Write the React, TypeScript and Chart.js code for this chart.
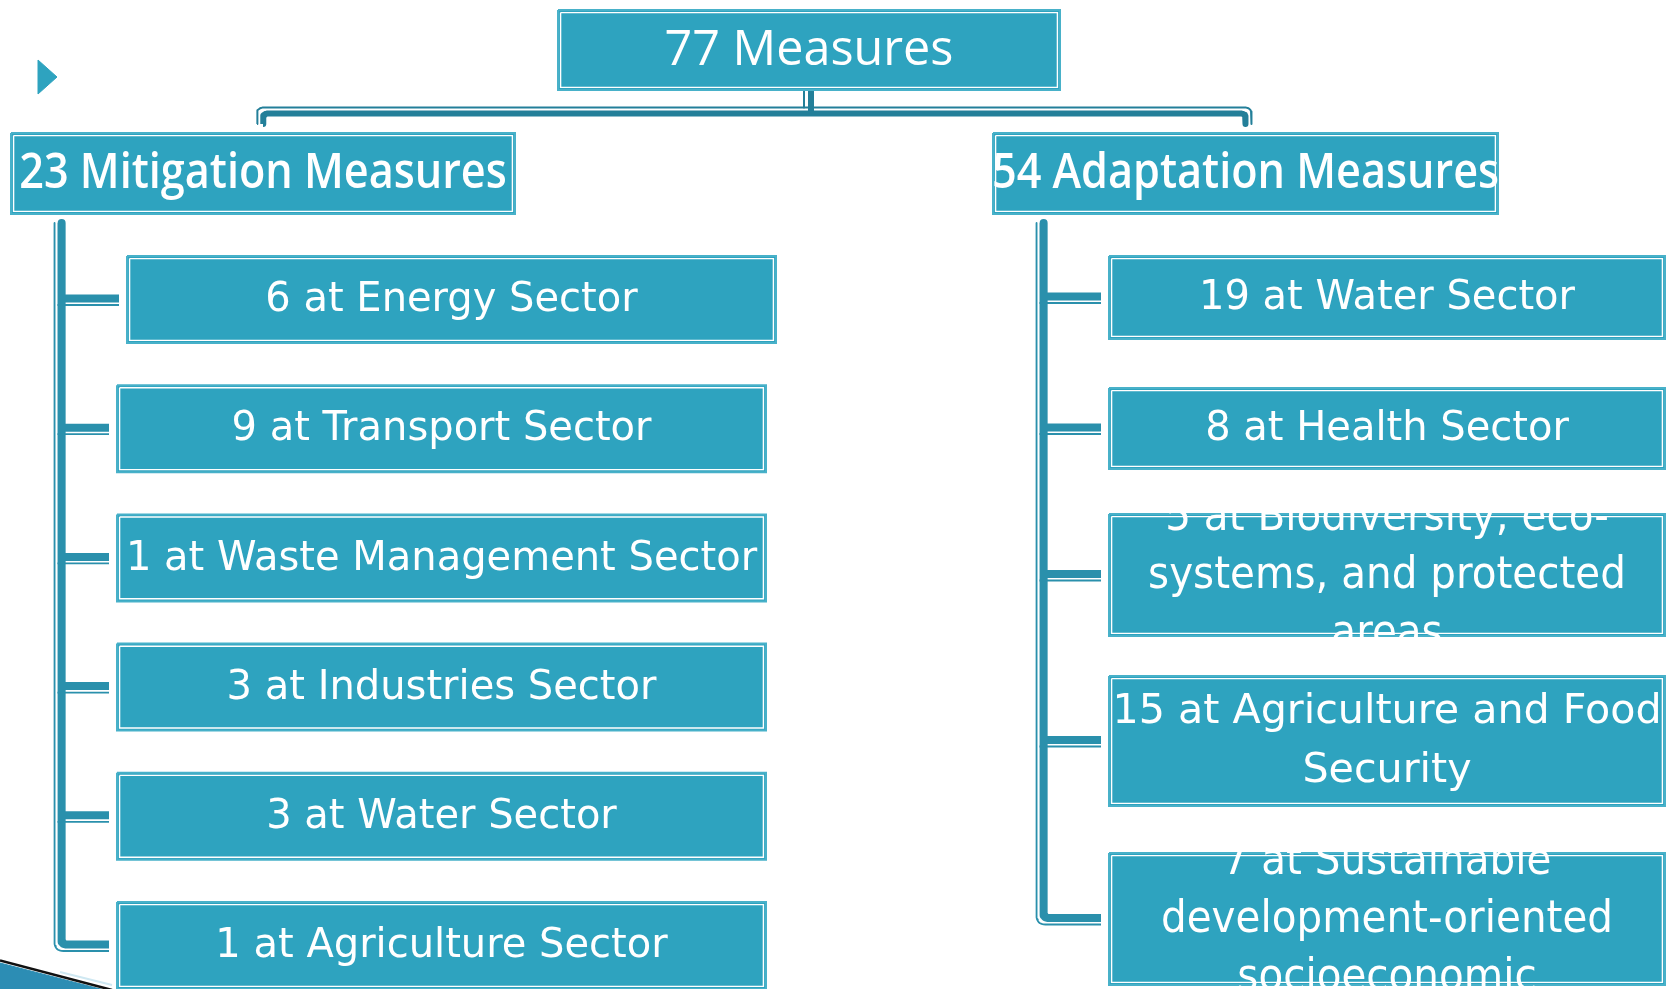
import React, { useEffect, useRef } from "react";
import { Chart, registerables } from "chart.js";

Chart.register(...registerables);

// ---------------- DATA ----------------
const rootLabel = "Measures";
const rootCount = 77;
const groupLabels = ["Mitigation Measures", "Adaptation Measures"];
const groupCounts = [23, 54];
const mitigationSectors = [
  "Energy Sector",
  "Transport Sector",
  "Waste Management Sector",
  "Industries Sector",
  "Water Sector",
  "Agriculture Sector",
];
const mitigationCounts = [6, 9, 1, 3, 3, 1];
const adaptationSectors = [
  "Water Sector",
  "Health Sector",
  "Biodiversity, eco-systems, and protected areas",
  "Agriculture and Food Security",
  "Sustainable development-oriented socioeconomic",
];
const adaptationCounts = [19, 8, 5, 15, 7];

// ---------------- LAYOUT (value space = page pixels) ----------------
const W = 1675;
const H = 989;
type Box = { x0: number; y0: number; x1: number; y1: number };
const rootBox: Box = { x0: 557, y0: 9, x1: 1061, y1: 91 };
const groupBoxes: Box[] = [
  { x0: 10, y0: 132, x1: 516, y1: 215 },
  { x0: 992, y0: 132, x1: 1499, y1: 215 },
];
const mitigationBoxes: Box[] = mitigationSectors.map((_, i) => {
  const x0 = i === 0 ? 126 : 116;
  const y0 = 255 + i * 129.2;
  return { x0, y0, x1: x0 + 651, y1: y0 + 89 };
});
const adaptationRows = [
  [255, 340],
  [387, 470],
  [513, 637],
  [675, 807],
  [852, 986],
];
const adaptationBoxes: Box[] = adaptationRows.map(([a, b]) => ({ x0: 1108, y0: a, x1: 1666, y1: b }));

// ---------------- STYLES ----------------
const BOX_FILL = "#2EA3BF";
const BOX_EDGE = "#48B1C9";
const TRUNK = "#2A90AC";
const TOPLINK = "#237F99";
type FontSpec = { family: string; weight: number; size: number; hs: number; lh: number; cap: number; wrap: boolean };
const rootFont: FontSpec = { family: '"Open Sans"', weight: 400, size: 50, hs: 0.97, lh: 60, cap: 0.714, wrap: false };
const groupFont: FontSpec = { family: '"Open Sans"', weight: 600, size: 48, hs: 0.9, lh: 58, cap: 0.714, wrap: false };
const childFont: FontSpec = { family: '"DejaVu Sans"', weight: 400, size: 40, hs: 1, lh: 59, cap: 0.73, wrap: true };
const wideChildFont: FontSpec = { family: '"DejaVu Sans"', weight: 400, size: 40, hs: 1.03, lh: 59, cap: 0.73, wrap: true };
const condensedFont: FontSpec = { family: '"DejaVu Sans"', weight: 400, size: 44, hs: 0.92, lh: 58, cap: 0.73, wrap: true };
const adaptationFonts = [childFont, childFont, condensedFont, wideChildFont, condensedFont];

type Pt = [number, number];

function rounded(pts: Pt[], r: number): Pt[] {
  const out: Pt[] = [pts[0]];
  for (let i = 1; i < pts.length - 1; i++) {
    const [px, py] = pts[i - 1];
    const [cx, cy] = pts[i];
    const [nx, ny] = pts[i + 1];
    const d1 = Math.hypot(cx - px, cy - py);
    const d2 = Math.hypot(nx - cx, ny - cy);
    const rr = Math.min(r, d1 / 2, d2 / 2);
    const ax = cx + ((px - cx) / d1) * rr;
    const ay = cy + ((py - cy) / d1) * rr;
    const bx = cx + ((nx - cx) / d2) * rr;
    const by = cy + ((ny - cy) / d2) * rr;
    for (let k = 0; k <= 8; k++) {
      const t = k / 8;
      out.push([
        (1 - t) * (1 - t) * ax + 2 * (1 - t) * t * cx + t * t * bx,
        (1 - t) * (1 - t) * ay + 2 * (1 - t) * t * cy + t * t * by,
      ]);
    }
  }
  out.push(pts[pts.length - 1]);
  return out;
}

const toData = (pts: Pt[]) => pts.map(([x, y]) => ({ x, y }));

function lineDs(pts: Pt[], color: string, width: number, order: number) {
  return {
    data: toData(pts),
    borderColor: color,
    borderWidth: width,
    backgroundColor: "transparent",
    fill: false,
    pointRadius: 0,
    pointHoverRadius: 0,
    tension: 0,
    borderJoinStyle: "round" as const,
    borderCapStyle: "butt" as const,
    order,
  };
}

function rectPts(b: Box, inset = 0): Pt[] {
  return [
    [b.x0 + inset, b.y0 + inset],
    [b.x1 - inset, b.y0 + inset],
    [b.x1 - inset, b.y1 - inset],
    [b.x0 + inset, b.y1 - inset],
    [b.x0 + inset, b.y0 + inset],
  ];
}

type Node = { text: string; box: Box; font: FontSpec };

function buildNodes(): Node[] {
  const nodes: Node[] = [];
  nodes.push({ text: `${rootCount} ${rootLabel}`, box: rootBox, font: rootFont });
  groupLabels.forEach((g, i) => nodes.push({ text: `${groupCounts[i]} ${g}`, box: groupBoxes[i], font: groupFont }));
  mitigationSectors.forEach((s, i) =>
    nodes.push({ text: `${mitigationCounts[i]} at ${s}`, box: mitigationBoxes[i], font: childFont })
  );
  adaptationSectors.forEach((s, i) =>
    nodes.push({ text: `${adaptationCounts[i]} at ${s}`, box: adaptationBoxes[i], font: adaptationFonts[i] })
  );
  return nodes;
}

function buildDatasets(nodes: Node[]) {
  const ds: any[] = [];
  // top connector
  const rcx = (rootBox.x0 + rootBox.x1) / 2;
  const lcx = (groupBoxes[0].x0 + groupBoxes[0].x1) / 2;
  const rgx = (groupBoxes[1].x0 + groupBoxes[1].x1) / 2;
  const legEnd = groupBoxes[0].y0 - 8;
  ds.push(lineDs(rounded([[lcx, legEnd], [lcx, 113.5], [rgx, 113.5], [rgx, legEnd]], 5), TOPLINK, 6, 10));
  ds.push(
    lineDs(rounded([[lcx - 6, legEnd], [lcx - 6, 107.5], [rgx + 6, 107.5], [rgx + 6, legEnd]], 7), TOPLINK, 2, 10)
  );
  ds.push(lineDs([[rcx + 2, rootBox.y1], [rcx + 2, 113]], TOPLINK, 6, 10));
  ds.push(lineDs([[rcx - 5, rootBox.y1], [rcx - 5, 107.5]], TOPLINK, 2, 10));

  // trunks
  const trunks: [Box, Box[]][] = [
    [groupBoxes[0], mitigationBoxes],
    [groupBoxes[1], adaptationBoxes],
  ];
  trunks.forEach(([g, kids]) => {
    const tx = g.x0 + 51.5;
    const thin = tx - 7;
    const top = g.y1 + 8;
    kids.forEach((k, i) => {
      const cy = (k.y0 + k.y1) / 2;
      const ex = k.x0 - 7;
      if (i < kids.length - 1) {
        ds.push(lineDs([[tx, cy - 1], [ex, cy - 1]], TRUNK, 8, 10));
        ds.push(lineDs([[tx - 4, cy + 5.5], [ex, cy + 5.5]], TRUNK, 1.8, 10));
      } else {
        ds.push(lineDs(rounded([[tx, top], [tx, cy - 1], [ex, cy - 1]], 5), TRUNK, 8, 10));
        ds.push(lineDs(rounded([[thin, top], [thin, cy + 5.5], [ex, cy + 5.5]], 9), TRUNK, 1.8, 10));
      }
    });
  });

  // bullet triangle and corner decoration
  ds.push({
    ...lineDs([[38, 60], [57, 77], [38, 94], [38, 60]], BOX_FILL, 1, 6),
    fill: "shape",
    backgroundColor: BOX_FILL,
    borderJoinStyle: "miter",
  });
  ds.push({
    ...lineDs([[0, 963], [108, 991], [0, 991], [0, 963]], "#2C8DB4", 1, 6),
    fill: "shape",
    backgroundColor: "#2C8DB4",
  });
  ds.push(lineDs([[0, 960.5], [112, 990]], "#111111", 2.5, 5));
  ds.push(lineDs([[60, 972], [112, 985]], "#CFE8F2", 2, 5));

  // boxes
  nodes.forEach((n) => {
    ds.push({
      ...lineDs(rectPts(n.box, 1), BOX_EDGE, 2, 4),
      fill: "shape",
      backgroundColor: BOX_FILL,
      borderJoinStyle: "miter",
    });
    ds.push({ ...lineDs(rectPts(n.box, 3.6), "#FFFFFF", 1.4, 2), borderJoinStyle: "miter" });
  });
  return ds;
}

function wrap(ctx: CanvasRenderingContext2D, text: string, maxW: number, hs: number): string[] {
  const pieces: { t: string; sp: boolean }[] = [];
  text.split(" ").forEach((w) => {
    const parts = w.split(/(?<=-)/);
    parts.forEach((p, j) => pieces.push({ t: p, sp: j === 0 }));
  });
  const lines: string[] = [];
  let cur = "";
  for (const pc of pieces) {
    const cand = cur === "" ? pc.t : cur + (pc.sp ? " " : "") + pc.t;
    if (cur !== "" && ctx.measureText(cand).width * hs > maxW) {
      lines.push(cur);
      cur = pc.t;
    } else cur = cand;
  }
  if (cur) lines.push(cur);
  return lines;
}

function textPlugin(nodes: Node[]) {
  return {
    id: "nodeText",
    afterDatasetsDraw(chart: any) {
      const ctx: CanvasRenderingContext2D = chart.ctx;
      const xs = chart.scales.x;
      const ys = chart.scales.y;
      nodes.forEach((n) => {
        const x0 = xs.getPixelForValue(n.box.x0);
        const x1 = xs.getPixelForValue(n.box.x1);
        const y0 = ys.getPixelForValue(n.box.y0);
        const y1 = ys.getPixelForValue(n.box.y1);
        const f = n.font;
        ctx.save();
        ctx.beginPath();
        ctx.rect(x0, y0, x1 - x0, y1 - y0);
        ctx.clip();
        ctx.font = `${f.weight} ${f.size}px ${f.family}`;
        ctx.fillStyle = "#FFFFFF";
        ctx.textAlign = "center";
        ctx.textBaseline = "alphabetic";
        const lines = f.wrap ? wrap(ctx, n.text, x1 - x0 - 4, f.hs) : [n.text];
        const cx = (x0 + x1) / 2;
        const cy = (y0 + y1) / 2;
        lines.forEach((ln, i) => {
          const by = cy + (i - (lines.length - 1) / 2) * f.lh + (f.cap * f.size) / 2 - 3;
          ctx.save();
          ctx.translate(cx, by);
          ctx.scale(f.hs, 1);
          ctx.fillText(ln, 0, 0);
          ctx.restore();
        });
        ctx.restore();
      });
    },
  };
}

export default function App() {
  const ref = useRef<HTMLCanvasElement | null>(null);
  useEffect(() => {
    if (!ref.current) return;
    const nodes = buildNodes();
    const chart = new Chart(ref.current, {
      type: "line",
      data: { datasets: buildDatasets(nodes) },
      options: {
        responsive: false,
        animation: false,
        devicePixelRatio: 1,
        events: [],
        layout: { padding: 0 },
        plugins: { legend: { display: false }, tooltip: { enabled: false } },
        scales: {
          x: { type: "linear", min: 0, max: W, display: false },
          y: { type: "linear", min: 0, max: H, reverse: true, display: false },
        },
      },
      plugins: [textPlugin(nodes)],
    } as any);
    return () => chart.destroy();
  }, []);
  return (
    <div style={{ position: "fixed", left: 0, top: 0, width: W, height: H, background: "#FFFFFF" }}>
      <canvas ref={ref} width={W} height={H} style={{ display: "block" }} />
    </div>
  );
}
